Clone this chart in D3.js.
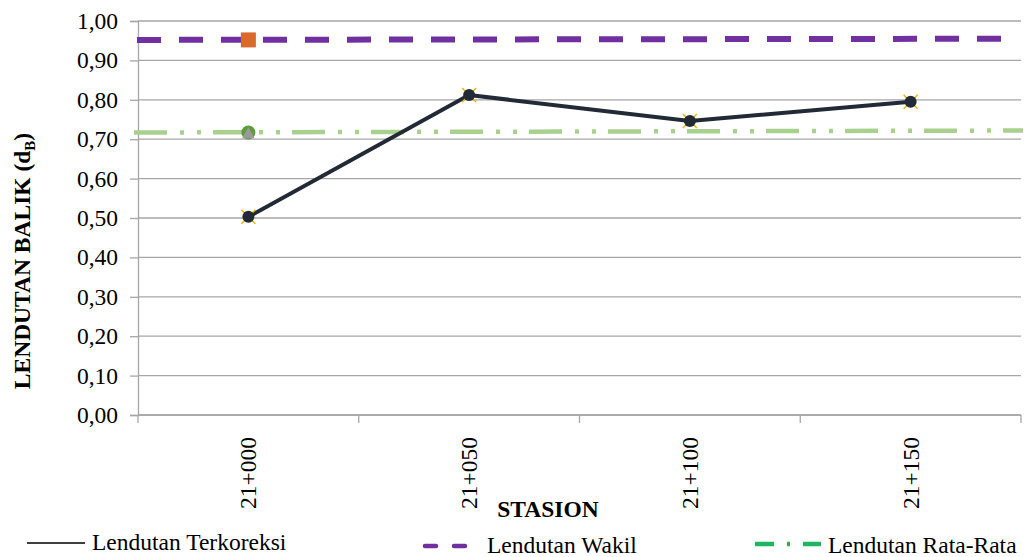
<!DOCTYPE html>
<html>
<head>
<meta charset="utf-8">
<script src="https://cdn.jsdelivr.net/npm/d3@7"></script>
<style>
  html, body { margin: 0; padding: 0; background: #fff; }
  svg { display: block; }
</style>
</head>
<body>
<svg id="chart" width="1026" height="557"></svg>
<script>
// Station labels along the x axis
const stations = ["21+000", "21+050", "21+100", "21+150"];
// Corrected rebound deflection at each station
const terkoreksi = [0.503, 0.812, 0.746, 0.795];
// Representative deflection (single point + reference line, start/end values)
const wakilPoint = 0.952;
const wakilLine = [0.952, 0.955];
// Average deflection (single point + reference line, start/end values)
const rataPoint = 0.717;
const rataLine = [0.717, 0.722];
// Y axis tick values
const yTicks = [0, 0.1, 0.2, 0.3, 0.4, 0.5, 0.6, 0.7, 0.8, 0.9, 1.0];

const svg = d3.select("#chart");
const plotLeft = 138, plotRight = 1021, plotTop = 21, plotBottom = 415;

const x = d3.scaleBand().domain(stations).range([plotLeft, plotRight]);
const y = d3.scaleLinear().domain([0, 1]).range([plotBottom, plotTop]);
const fmt = v => d3.format(".2f")(v).replace(".", ",");

const serif = "'Liberation Serif', 'Times New Roman', serif";
const gridColor = "#a6a6a6";
const fontSize = "23.5px";

// horizontal gridlines
svg.append("g").selectAll("line").data(yTicks).join("line")
  .attr("x1", plotLeft).attr("x2", plotRight)
  .attr("y1", d => y(d)).attr("y2", d => y(d))
  .attr("stroke", gridColor).attr("stroke-width", 1.3);

// y axis
const yAxis = svg.append("g").attr("transform", `translate(${plotLeft},0)`)
  .call(d3.axisLeft(y).tickValues(yTicks).tickFormat(fmt).tickSize(8).tickPadding(12));
yAxis.select(".domain").attr("stroke", gridColor).attr("stroke-width", 1.3);
yAxis.selectAll(".tick line").attr("stroke", gridColor).attr("stroke-width", 1.3);
yAxis.selectAll(".tick text")
  .style("font-family", serif).style("font-size", fontSize).attr("fill", "#000");

// x axis: baseline, boundary ticks, rotated labels
const xAxis = svg.append("g").attr("transform", `translate(0,${plotBottom})`);
xAxis.append("line").attr("x1", plotLeft).attr("x2", plotRight).attr("y1", 0).attr("y2", 0)
  .attr("stroke", gridColor).attr("stroke-width", 1.3);
const bounds = stations.map(s => x(s)).concat([x.range()[1]]);
xAxis.selectAll("line.tk").data(bounds).join("line").attr("class", "tk")
  .attr("x1", d => d).attr("x2", d => d).attr("y1", 0).attr("y2", 8)
  .attr("stroke", gridColor).attr("stroke-width", 1.3);
xAxis.selectAll("text").data(stations).join("text")
  .attr("transform", d => `translate(${x(d) + x.bandwidth() / 2 + 8},22) rotate(-90)`)
  .attr("text-anchor", "end")
  .style("font-family", serif).style("font-size", fontSize).attr("fill", "#000")
  .text(d => d);

// reference line: average deflection (dash-dot-dot)
svg.append("line")
  .attr("x1", plotLeft - 4).attr("x2", plotRight + 2)
  .attr("y1", y(rataLine[0])).attr("y2", y(rataLine[1]))
  .attr("stroke", "#a9d18e").attr("stroke-width", 4.5)
  .attr("stroke-dasharray", "33,13,4,13,4,12");

// reference line: representative deflection (long dash)
svg.append("line")
  .attr("x1", plotLeft - 1).attr("x2", plotRight - 2)
  .attr("y1", y(wakilLine[0])).attr("y2", y(wakilLine[1]))
  .attr("stroke", "#7030a0").attr("stroke-width", 6)
  .attr("stroke-dasharray", "24,18");

// single markers at the first station
const cx0 = x(stations[0]) + x.bandwidth() / 2;
svg.append("rect")
  .attr("x", cx0 - 7.5).attr("y", y(wakilPoint) - 7.5)
  .attr("width", 15).attr("height", 15)
  .attr("fill", "#d86b2a");
svg.append("circle")
  .attr("cx", cx0).attr("cy", y(rataPoint)).attr("r", 7)
  .attr("fill", "#5e9c3a");
svg.append("path")
  .attr("d", d3.symbol(d3.symbolTriangle, 70)())
  .attr("transform", `translate(${cx0},${y(rataPoint) + 2})`)
  .attr("fill", "#9a9a9a");

// corrected deflection series
const cx = d => x(d) + x.bandwidth() / 2;
const pts = stations.map((s, i) => [cx(s), y(terkoreksi[i])]);
svg.append("path")
  .attr("d", d3.line()(pts))
  .attr("fill", "none").attr("stroke", "#222a36").attr("stroke-width", 4)
  .attr("stroke-linejoin", "round");
const mk = svg.append("g").selectAll("g").data(pts).join("g")
  .attr("transform", d => `translate(${d[0]},${d[1]})`);
mk.append("path")
  .attr("d", "M-7,-7L7,7M-7,7L7,-7")
  .attr("stroke", "#f0b400").attr("stroke-width", 1.5);
mk.append("circle").attr("r", 6).attr("fill", "#222a36");

// axis titles
const yt = svg.append("text")
  .attr("transform", "translate(30,261) rotate(-90)")
  .attr("text-anchor", "middle")
  .style("font-family", serif).style("font-size", fontSize).style("font-weight", "bold")
  .attr("fill", "#000");
yt.append("tspan").text("LENDUTAN BALIK (d");
yt.append("tspan").style("font-size", "15px").attr("dy", 5).text("B");
yt.append("tspan").attr("dy", -5).text(")");

svg.append("text")
  .attr("x", 548).attr("y", 517)
  .attr("text-anchor", "middle")
  .style("font-family", serif).style("font-size", fontSize).style("font-weight", "bold")
  .attr("fill", "#000")
  .text("STASION");

// legend
const leg = svg.append("g");
const legText = (xPos, yPos, label) => leg.append("text")
  .attr("x", xPos).attr("y", yPos)
  .style("font-family", serif).style("font-size", fontSize).attr("fill", "#000")
  .text(label);

leg.append("line").attr("x1", 27).attr("x2", 85).attr("y1", 543).attr("y2", 543)
  .attr("stroke", "#000").attr("stroke-width", 1.5);
legText(92, 550, "Lendutan Terkoreksi");

leg.append("line").attr("x1", 425).attr("x2", 467).attr("y1", 546).attr("y2", 546)
  .attr("stroke", "#7030a0").attr("stroke-width", 4.5)
  .attr("stroke-linecap", "round").attr("stroke-dasharray", "11,18");
legText(487, 553, "Lendutan Wakil");

leg.append("line").attr("x1", 755).attr("x2", 821).attr("y1", 544).attr("y2", 544)
  .attr("stroke", "#22b45a").attr("stroke-width", 4.5)
  .attr("stroke-dasharray", "19,13,3,13,18");
legText(828, 553, "Lendutan Rata-Rata");
</script>
</body>
</html>
